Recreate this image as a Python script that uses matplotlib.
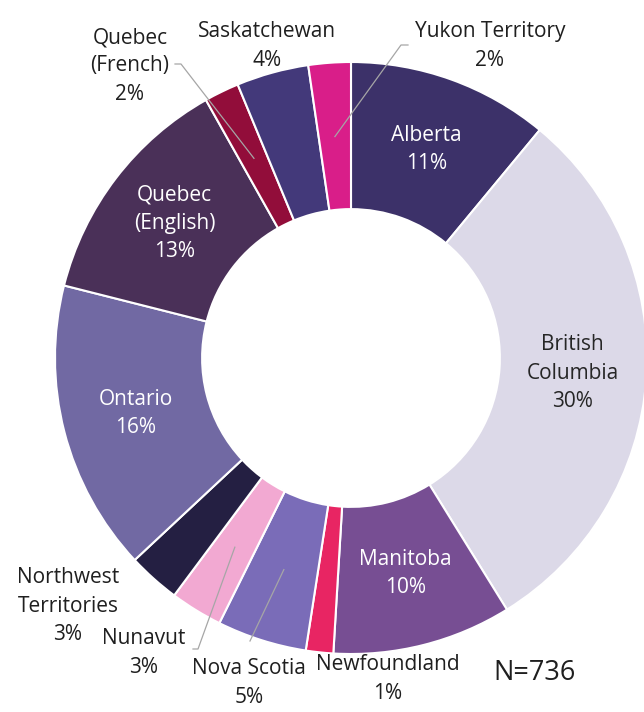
import numpy as np
import matplotlib.pyplot as plt

plt.rcParams['font.family'] = ['Open Sans', 'DejaVu Sans']

# respondents by province / territory (N=736)
provinces = ["Alberta", "British\nColumbia", "Manitoba", "Newfoundland", "Nova Scotia",
             "Nunavut", "Northwest\nTerritories", "Ontario", "Quebec\n(English)",
             "Quebec\n(French)", "Saskatchewan", "Yukon Territory"]
counts = [81, 222, 72, 11, 36, 21, 21, 117, 95, 14, 29, 17]
colors = ["#3C3169", "#DCD9E8", "#774E93", "#E82563", "#7A6CB8", "#F2A9D2",
          "#241F42", "#7169A3", "#4A3058", "#920D3A", "#43397A", "#D91E89"]
n_total = sum(counts)

W, H = 644, 712
fig = plt.figure(figsize=(W / 100, H / 100), dpi=100)
cx, cy, R = 351, H - 358, 296
ax = fig.add_axes([(cx - R) / W, (cy - R) / H, 2 * R / W, 2 * R / H])

wedges, _ = ax.pie(counts, colors=colors, startangle=90, counterclock=False, radius=1,
                   wedgeprops=dict(width=0.497, edgecolor='white', linewidth=1.5))
ax.set_xlim(-1, 1)
ax.set_ylim(-1, 1)
ax.set_aspect('equal')
ax.axis('off')


def px(x, y):
    # pixel position in the picture -> data units
    return (x - cx) / R, ((H - y) - cy) / R


def mid_point(w, r):
    ang = np.deg2rad((w.theta1 + w.theta2) / 2)
    return r * np.cos(ang), r * np.sin(ang)


fs = 15
inside = {"Alberta": "white", "British\nColumbia": "#262626", "Manitoba": "white",
          "Ontario": "white", "Quebec\n(English)": "white"}

# outside labels: text position, optional leader line (knee, end)
outside = {
    "Quebec\n(French)": (px(130, 66), [px(181, 64), px(175, 64)]),
    "Saskatchewan": (px(267, 46), None),
    "Yukon Territory": (px(490, 46), [px(401, 45), px(408, 45)]),
    "Northwest\nTerritories": (px(68, 606), None),
    "Nunavut": (px(144, 653), [px(198, 649), px(193, 649)]),
    "Nova Scotia": (px(249, 683), [px(250, 641)]),
    "Newfoundland": (px(388, 679), None),
}

for w, name, c in zip(wedges, provinces, counts):
    label = f"{name}\n{round(100 * c / n_total)}%"
    if name in inside:
        x, y = mid_point(w, 0.75)
        ax.text(x, y, label, ha='center', va='center', fontsize=fs,
                color=inside[name], linespacing=1.45)
    else:
        (tx, ty), line = outside[name]
        ax.text(tx, ty, label, ha='center', va='center', fontsize=fs,
                color='#1f1f1f', linespacing=1.45)
        if line:
            ax0 = mid_point(w, 0.75)
            pts = [ax0] + line
            ax.plot([p[0] for p in pts], [p[1] for p in pts], color='#a6a6a6',
                    lw=0.9, clip_on=False, zorder=5)

nx, ny = px(534, 673)
ax.text(nx, ny, f"N={n_total}", ha='center', va='center', fontsize=19.5, color='#1f1f1f')

fig.savefig("out.png", dpi=100)
